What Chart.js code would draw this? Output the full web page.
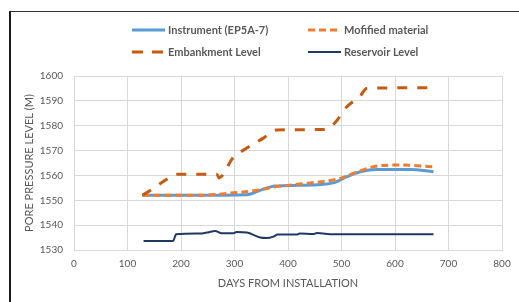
<!DOCTYPE html>
<html>
<head>
<meta charset="utf-8">
<script src="https://cdn.jsdelivr.net/npm/chart.js@4"></script>
<style>
  html, body { margin: 0; padding: 0; background: #fff; }
  #wrap { position: relative; width: 519px; height: 302px; overflow: hidden; }
  #frame { position: absolute; left: 9px; top: 11px; width: 520px; height: 300px;
           border-left: 2px solid #1a1a1a; border-top: 1px solid #333; }
  canvas { position: absolute; left: 0; top: 0; }
</style>
</head>
<body>
<div id="wrap">
  <div id="frame"></div>
  <canvas id="chart" width="519" height="302"></canvas>
</div>
<script>
// Dados
const instrumentDays  = [128, 235, 323, 348, 376, 421, 485, 510, 535, 566, 628, 672];
const instrumentLevel = [1552, 1552, 1552.2, 1554, 1555.7, 1556, 1557, 1559.5, 1561.5, 1562.4, 1562.4, 1561.5];

const modifiedDays  = [128, 235, 298, 335, 379, 435, 497, 522, 560, 609, 672];
const modifiedLevel = [1552, 1552, 1553, 1553.8, 1555.5, 1556.8, 1558.8, 1560.8, 1563.5, 1564.2, 1563.5];

const embankDays  = [128, 150, 170, 192, 267, 271, 297, 323, 354, 379, 466, 482, 491, 510, 535, 547, 670];
const embankLevel = [1552, 1555, 1558, 1560.5, 1560.5, 1559, 1567, 1571, 1575, 1578.3, 1578.5, 1580, 1582, 1587.6, 1592, 1595, 1595.3];

const reservoirDays  = [130, 185, 191, 236, 248, 264, 276, 298, 304, 323, 348, 360, 373, 381, 416, 422, 447, 454, 485, 672];
const reservoirLevel = [1533.6, 1533.6, 1536.3, 1536.6, 1537, 1537.6, 1536.7, 1536.7, 1537.2, 1537, 1535, 1534.8, 1535.4, 1536.2, 1536.2, 1536.6, 1536.4, 1536.8, 1536.3, 1536.3];

const xTicks = [0, 100, 200, 300, 400, 500, 600, 700, 800];
const yTicks = [1530, 1540, 1550, 1560, 1570, 1580, 1590, 1600];

const FONT = 'Lato, "Open Sans", sans-serif';
const GREY = '#595959';

function toPoints(xs, ys) {
    return xs.map((x, i) => ({ x: x, y: ys[i] }));
}

// legenda em duas colunas, desenhada à mão
const legendPlugin = {
    id: 'gridLegend',
    afterDraw(chart) {
        const ctx = chart.ctx;
        const spots = [
            { ds: 0, x: 132, y: 30 },
            { ds: 1, x: 308, y: 30 },
            { ds: 2, x: 132, y: 52 },
            { ds: 3, x: 308, y: 52 }
        ];
        ctx.save();
        ctx.font = 'bold 11px ' + FONT;
        ctx.textBaseline = 'middle';
        spots.forEach(s => {
            const ds = chart.data.datasets[s.ds];
            ctx.strokeStyle = ds.borderColor;
            ctx.lineWidth = ds.borderWidth;
            ctx.setLineDash(ds.legendDash || []);
            ctx.beginPath();
            ctx.moveTo(s.x, s.y);
            ctx.lineTo(s.x + 33, s.y);
            ctx.stroke();
            ctx.setLineDash([]);
            ctx.fillStyle = GREY;
            ctx.fillText(ds.label, s.x + 36, s.y + 0.5);
        });
        ctx.restore();
    }
};

new Chart(document.getElementById('chart'), {
    type: 'line',
    data: {
        datasets: [
            {
                label: 'Instrument (EP5A-7)',
                data: toPoints(instrumentDays, instrumentLevel),
                borderColor: '#5B9BD5',
                borderWidth: 3,
                order: 2
            },
            {
                label: 'Mofified material',
                data: toPoints(modifiedDays, modifiedLevel),
                borderColor: '#ED7D31',
                borderWidth: 3,
                borderDash: [7, 4],
                legendDash: [7, 4],
                order: 1
            },
            {
                label: 'Embankment Level',
                data: toPoints(embankDays, embankLevel),
                borderColor: '#C55A11',
                borderWidth: 3,
                borderDash: [10, 10],
                legendDash: [11, 9],
                order: 0
            },
            {
                label: 'Reservoir Level',
                data: toPoints(reservoirDays, reservoirLevel),
                borderColor: '#203864',
                borderWidth: 2,
                order: 3
            }
        ]
    },
    options: {
        responsive: false,
        animation: false,
        parsing: false,
        elements: {
            point: { radius: 0 },
            line: { tension: 0.25, cubicInterpolationMode: 'monotone', fill: false }
        },
        layout: { padding: { left: 23, right: 17, top: 76, bottom: 12 } },
        plugins: {
            legend: { display: false },
            tooltip: { enabled: false }
        },
        scales: {
            x: {
                type: 'linear',
                min: 0,
                max: 800,
                afterBuildTicks: s => { s.ticks = xTicks.map(v => ({ value: v })); },
                afterFit: s => { s.height = 40; },
                grid: { color: '#D9D9D9', drawTicks: false },
                border: { color: '#D9D9D9' },
                ticks: { color: GREY, font: { family: FONT, size: 10 }, padding: 8, callback: v => String(v) },
                title: {
                    display: true,
                    text: 'DAYS FROM INSTALLATION',
                    color: GREY,
                    font: { family: FONT, size: 11 },
                    padding: 0
                }
            },
            y: {
                min: 1530,
                max: 1600,
                afterBuildTicks: s => { s.ticks = yTicks.map(v => ({ value: v })); },
                afterFit: s => { s.width = 51; },
                grid: { color: '#D9D9D9', drawTicks: false },
                border: { color: '#D9D9D9' },
                ticks: { color: GREY, font: { family: FONT, size: 10 }, padding: 11, callback: v => String(v) },
                title: {
                    display: true,
                    text: 'PORE PRESSURE LEVEL (M)',
                    color: GREY,
                    font: { family: FONT, size: 11 },
                    padding: 0
                }
            }
        }
    },
    plugins: [legendPlugin]
});
</script>
</body>
</html>
